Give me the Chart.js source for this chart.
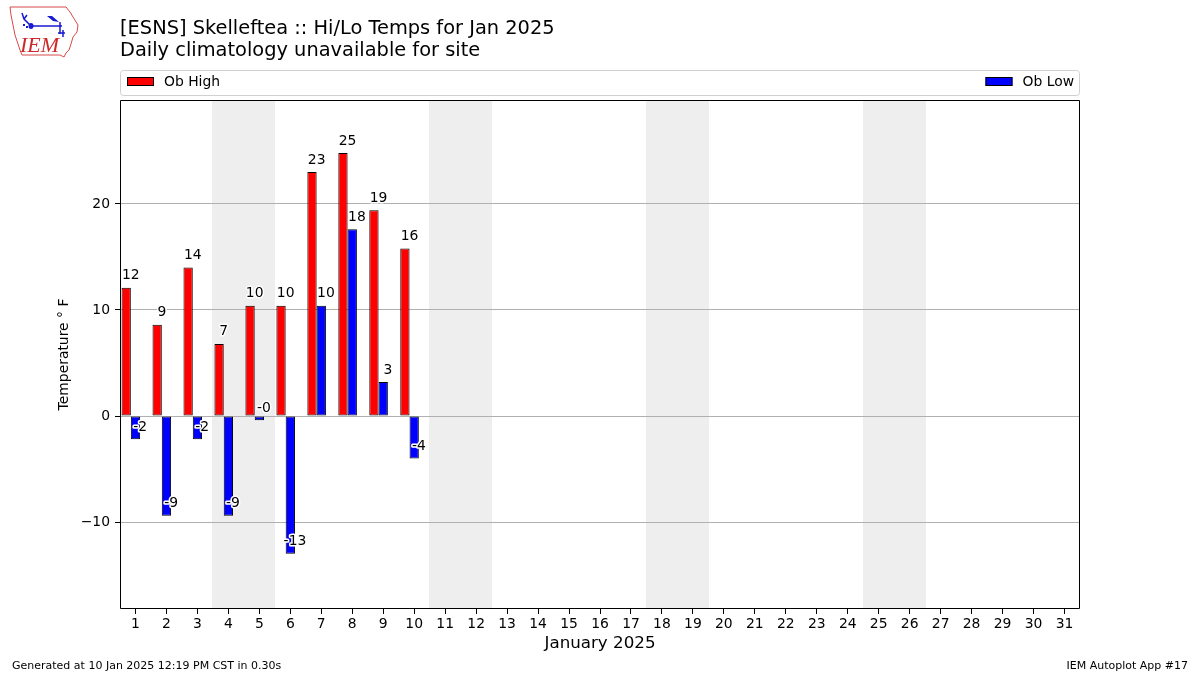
<!DOCTYPE html>
<html>
<head>
<meta charset="utf-8">
<title>[ESNS] Skelleftea :: Hi/Lo Temps for Jan 2025</title>
<script src="https://cdn.jsdelivr.net/npm/chart.js@4/dist/chart.umd.min.js"></script>
<style>
  html, body { margin: 0; padding: 0; background: #fff; }
  #wrap { position: relative; width: 1200px; height: 675px; }
  #logo { position: absolute; left: 0; top: 0; }
</style>
</head>
<body>
<div id="wrap">
  <canvas id="chart"></canvas>
  <canvas id="logo" width="90" height="62"></canvas>
</div>
<script>
// Data
const days = [1, 2, 3, 4, 5, 6, 7, 8, 9, 10, 11, 12, 13, 14, 15, 16,
  17, 18, 19, 20, 21, 22, 23, 24, 25, 26, 27, 28, 29, 30, 31];
const obHigh = [12.1, 8.6, 14.0, 6.8, 10.4, 10.4, 23.0, 24.8, 19.4, 15.8];
const obLow = [-2.2, -9.4, -2.2, -9.4, -0.4, -13.0, 10.4, 17.6, 3.2, -4.0];
const weekendDays = [4, 5, 11, 12, 18, 19, 25, 26];
const yTicks = [-10, 0, 10, 20];
const yMin = -18.2;
const yMax = 29.8;

const FONT = 'DejaVu Sans';
Chart.defaults.font.family = FONT;
Chart.defaults.font.size = 13.9;
Chart.defaults.color = '#000';

// Background bands, value labels, frame, titles, legend, footer
const decorations = {
  id: 'decorations',
  beforeDraw(chart) {
    const { ctx, chartArea: a, scales: { x } } = chart;
    const half = (a.right - a.left) / days.length / 2;
    ctx.save();
    ctx.fillStyle = '#eeeeee';
    weekendDays.forEach(d => {
      const px = x.getPixelForValue(days.indexOf(d));
      const l = Math.floor(px - half);
      const r = Math.ceil(px + half);
      ctx.fillRect(l, a.top, r - l, a.bottom - a.top);
    });
    ctx.restore();
  },
  afterDatasetsDraw(chart) {
    const { ctx, chartArea: a } = chart;
    ctx.save();
    // value labels
    ctx.font = '13.9px ' + FONT;
    ctx.textAlign = 'center';
    ctx.textBaseline = 'alphabetic';
    ctx.lineJoin = 'round';
    chart.data.datasets.forEach((ds, di) => {
      if (!ds.showValues) return;
      chart.getDatasetMeta(di).data.forEach((bar, i) => {
        const v = ds.data[i];
        if (v == null) return;
        const txt = v.toFixed(0);
        const tx = bar.x + bar.width / 2;
        const ty = bar.y - 8.5;
        ctx.strokeStyle = '#fff';
        ctx.lineWidth = 3;
        ctx.strokeText(txt, tx, ty);
        ctx.fillStyle = '#000';
        ctx.fillText(txt, tx, ty);
      });
    });
    // frame
    ctx.strokeStyle = '#000';
    ctx.lineWidth = 1;
    ctx.strokeRect(Math.round(a.left) + 0.5, Math.round(a.top) + 0.5,
      Math.round(a.right - a.left) - 1, Math.round(a.bottom - a.top) - 1);
    ctx.restore();
  },
  afterDraw(chart) {
    const { ctx, chartArea: a } = chart;
    ctx.save();
    ctx.fillStyle = '#000';
    // titles
    ctx.textAlign = 'left';
    ctx.textBaseline = 'middle';
    ctx.font = '19.4px ' + FONT;
    ctx.fillText('[ESNS] Skelleftea :: Hi/Lo Temps for Jan 2025', 120, 29);
    ctx.fillText('Daily climatology unavailable for site', 120, 51);

    // legend box
    ctx.beginPath();
    ctx.roundRect(a.left + 0.5, 70.5, a.right - a.left - 1, 25, 3);
    ctx.strokeStyle = '#d0d0d0';
    ctx.lineWidth = 1;
    ctx.stroke();
    ctx.font = '13.9px ' + FONT;
    const items = chart.data.datasets.filter(ds => ds.label);
    // first item on the left, last on the right
    const drawItem = (ds, sx) => {
      ctx.fillStyle = ds.backgroundColor;
      ctx.fillRect(sx, 77, 27, 9);
      ctx.strokeStyle = '#000';
      ctx.strokeRect(sx + 0.5, 77.5, 26, 8);
      ctx.fillStyle = '#000';
      ctx.textAlign = 'left';
      ctx.fillText(ds.label, sx + 37, 82);
    };
    drawItem(items[0], 127);
    const w = ctx.measureText(items[1].label).width;
    drawItem(items[1], a.right - 6 - w - 37);

    // axis titles
    ctx.textAlign = 'center';
    ctx.font = '16.7px ' + FONT;
    ctx.fillText('January 2025', (a.left + a.right) / 2, 644);
    ctx.save();
    ctx.translate(64, (a.top + a.bottom) / 2);
    ctx.rotate(-Math.PI / 2);
    ctx.font = '13.9px ' + FONT;
    ctx.fillText('Temperature ° F', 0, 0);
    ctx.restore();

    // footer
    ctx.font = '11px ' + FONT;
    ctx.textAlign = 'left';
    ctx.fillText('Generated at 10 Jan 2025 12:19 PM CST in 0.30s', 12, 666);
    ctx.textAlign = 'right';
    ctx.fillText('IEM Autoplot App #17', 1188, 666);
    ctx.restore();
  }
};

new Chart(document.getElementById('chart'), {
  type: 'bar',
  data: {
    labels: days,
    datasets: [
      { label: 'Ob High', data: obHigh, backgroundColor: '#ff0000', showValues: true },
      { label: 'Ob Low', data: obLow, backgroundColor: '#0000ff', showValues: true },
      { label: '', data: [], backgroundColor: 'rgba(0,0,0,0)' } // empty slot keeps pair left of tick
    ]
  },
  options: {
    responsive: true,
    maintainAspectRatio: false,
    animation: false,
    layout: { padding: { top: 100, right: 120, left: 0, bottom: 0 } },
    datasets: {
      bar: {
        categoryPercentage: 0.9,
        barPercentage: 1.0,
        borderColor: '#000',
        borderWidth: 1,
        borderSkipped: false
      }
    },
    plugins: {
      legend: { display: false },
      tooltip: { enabled: false },
      title: { display: false }
    },
    scales: {
      x: {
        afterFit: s => { s.height = 66; },
        grid: { display: true, drawOnChartArea: false, offset: false, tickLength: 5, tickColor: '#000' },
        border: { display: false },
        ticks: { autoSkip: false, maxRotation: 0, padding: 2, color: '#000' }
      },
      y: {
        min: yMin,
        max: yMax,
        afterFit: s => { s.width = 120; },
        afterBuildTicks: s => { s.ticks = yTicks.map(v => ({ value: v })); },
        grid: { color: '#b0b0b0', tickColor: '#000', tickLength: 5 },
        border: { display: false },
        ticks: {
          padding: 5,
          color: '#000',
          callback: v => String(v).replace('-', '\u2212')
        }
      }
    }
  },
  plugins: [decorations]
});

// IEM logo (small decorative drawing)
(function drawLogo() {
  const c = document.getElementById('logo').getContext('2d');
  c.strokeStyle = '#d84a4a';
  c.lineWidth = 1;
  c.beginPath();
  const outline = [[10, 7], [66, 7], [70, 12], [73, 17], [78, 25], [77, 32], [73, 37],
    [71, 44], [69, 50], [66, 53], [64, 57], [60, 55], [22, 55], [20, 50], [18, 44],
    [15, 35], [13, 25], [11, 15], [10, 7]];
  outline.forEach((p, i) => i ? c.lineTo(p[0], p[1]) : c.moveTo(p[0], p[1]));
  c.stroke();
  c.strokeStyle = '#1a1ad0';
  c.fillStyle = '#1a1ad0';
  c.lineWidth = 1.5;
  c.beginPath();
  c.moveTo(31, 26); c.lineTo(62, 26);
  c.moveTo(31, 26); c.lineTo(24, 19); c.lineTo(22, 13);
  c.moveTo(24, 19); c.lineTo(27, 15);
  c.moveTo(60, 22); c.lineTo(60, 34);
  c.moveTo(63, 30); c.lineTo(63, 37);
  c.moveTo(58, 33); c.lineTo(65, 33);
  c.stroke();
  c.beginPath(); c.ellipse(31, 26, 2.5, 3, 0, 0, Math.PI * 2); c.fill();
  c.beginPath(); c.moveTo(47, 16); c.lineTo(52, 16); c.lineTo(59, 22); c.lineTo(53, 21); c.closePath(); c.fill();
  c.fillRect(23, 24, 2, 2); c.fillRect(26, 26, 2, 2);
  c.fillStyle = '#d02828';
  c.font = 'italic 22px "Liberation Serif"';
  c.textBaseline = 'alphabetic';
  c.fillText('IEM', 20, 52);
})();
</script>
</body>
</html>
